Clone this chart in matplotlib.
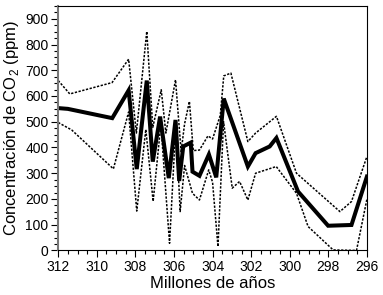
import matplotlib
matplotlib.use("Agg")
import matplotlib.pyplot as plt
from matplotlib.ticker import MultipleLocator

plt.rcParams['font.family'] = ['Liberation Sans', 'DejaVu Sans']
plt.rcParams['mathtext.fontset'] = 'custom'
plt.rcParams['mathtext.rm'] = 'Liberation Sans'

# mean curve
mean_age = [312.0, 311.5, 309.2, 308.35, 307.93, 307.41, 307.1, 306.72, 306.27, 305.92,
            305.73, 305.52, 305.13, 305.04, 304.68, 304.19, 303.81, 303.42, 302.17, 301.77,
            301.04, 300.69, 299.57, 298.01, 296.8, 296.0]
mean_co2 = [553, 550, 514, 622, 316, 660, 345, 520, 281, 507,
            270, 404, 419, 306, 290, 373, 284, 590, 326, 378,
            404, 437, 229, 96, 99, 287]

# upper bound
upper_age = [312.0, 311.4, 309.21, 308.35, 307.95, 307.41, 307.1, 306.66, 306.42, 305.92,
             305.63, 305.45, 305.2, 305.0, 304.68, 304.24, 304.0, 303.6, 303.42, 303.05,
             302.17, 301.77, 300.69, 299.65, 297.4, 296.8, 296.0]
upper_co2 = [660, 608, 652, 743, 456, 851, 478, 624, 456, 663,
             384, 492, 579, 388, 390, 445, 433, 525, 678, 689,
             423, 456, 521, 300, 151, 190, 365]

# lower bound
lower_age = [312.0, 311.3, 309.14, 308.35, 307.93, 307.46, 307.08, 306.68, 306.23, 305.9,
             305.68, 305.45, 305.04, 304.68, 304.2, 304.0, 303.72, 303.43, 302.98, 302.6,
             302.17, 301.77, 300.7, 299.65, 299.05, 297.75, 296.54, 296.0]
lower_co2 = [497, 468, 317, 538, 153, 470, 191, 490, 28, 495,
             151, 330, 222, 196, 313, 265, 15, 500, 242, 268,
             196, 300, 326, 222, 93, 2, 0, 199]

fig = plt.figure(figsize=(3.83, 2.95), dpi=100)
ax = fig.add_axes([0.152, 0.151, 0.806, 0.829])

ax.plot(upper_age, upper_co2, color="black", lw=1.1, ls=(0, (1.5, 1)))
ax.plot(lower_age, lower_co2, color="black", lw=1.1, ls=(0, (1.5, 1)))
ax.plot(mean_age, mean_co2, color="black", lw=2.9, solid_joinstyle="miter")

ax.set_xlim(312, 296)
ax.xaxis.set_major_locator(MultipleLocator(2))
ax.xaxis.set_minor_locator(MultipleLocator(0.5))
ax.set_yticks(range(0, 1000, 100))
ax.set_yticklabels([str(v) for v in range(0, 1000, 100)])
ax.yaxis.set_minor_locator(MultipleLocator(25))
ax.set_ylim(0, 950)

ax.tick_params(which="major", length=5, width=0.8, labelsize=10, pad=2)
ax.tick_params(which="minor", length=3, width=0.8)
for s in ax.spines.values():
    s.set_linewidth(0.8)
ax.spines["left"].set_color("#777777")
ax.spines["left"].set_linewidth(1.5)

ax.set_xlabel("Millones de años", fontsize=12, labelpad=1)
ax.set_ylabel("Concentración de CO$_2$ (ppm)", fontsize=12, labelpad=3)

fig.savefig("out.png", dpi=100)
